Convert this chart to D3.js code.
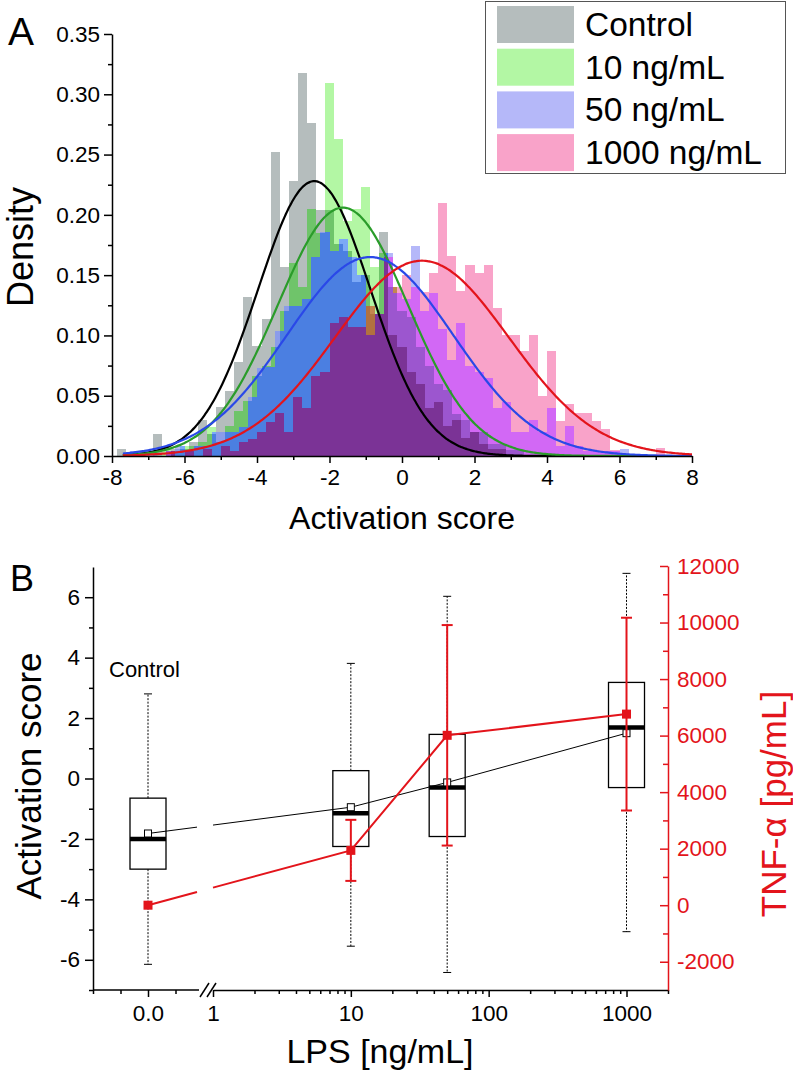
<!DOCTYPE html>
<html><head><meta charset="utf-8">
<script src="https://cdn.jsdelivr.net/npm/d3@7"></script>
<style>body{margin:0;background:#fff} text{font-family:Arial,"Liberation Sans",sans-serif}</style>
</head><body><svg id="c" width="793" height="1073"></svg>
<script>
// ---------------- Panel A data ----------------
const seriesNames = ["Control", "10 ng/mL", "50 ng/mL", "1000 ng/mL"];
const binWidth = 0.25;
const controlStart = -7.875;
const controlDensity = [0.006,0,0,0,0.018,0,0.006,0.006,0.012,0.030,0.018,0.041,0.054,0.078,0.132,0.091,0.114,0.252,0.157,0.228,0.318,0.276,0.204,0.204,0.176,0.17,0.144,0.150,0.118,0.186,0.10,0.09,0.07,0.06,0.04,0.045,0.025,0.03,0.015,0.02,0.01,0.006,0.006];
const lps10Start = -6.625;
const lps10Density = [0.008,0.004,0.008,0.008,0.012,0.024,0.012,0.025,0.037,0.046,0.066,0.075,0.09,0.12,0.16,0.140,0.205,0.185,0.309,0.263,0.195,0.205,0.223,0.157,0.168,0.14,0.12,0.115,0.09,0.075,0.06,0.055,0.035,0.03,0.02,0.02,0.01,0.01,0.005,0.005];
const lps50Start = -7.5;
const lps50Density = [0.004,0.004,0.004,0,0.004,0.008,0.004,0.008,0.008,0.02,
 0.02,0.02,0.024,0.049,0.073,0.074,0.104,0.124,0.124,0.13,
 0.165,0.186,0.17,0.18,0.165,0.15,0.10,0.118,0.168,0.135,
 0.13,0.174,0.12,0.135,0.105,0.08,0.11,0.075,0.07,0.065,
 0.04,0.045,0.02,0.02,0.03,0.02,0.04,0.008,0.025,0.008,
 0.004,0.004,0.004,0.004,0.006];
const lps1000Start = -6.5;
const lps1000Density = [0.004,0,0.004,0,0.006,0,0.008,0.004,0.012,0.014,
 0.02,0.028,0.036,0.02,0.049,0.04,0.066,0.07,0.11,0.115,
 0.107,0.107,0.124,0.118,0.165,0.14,0.15,0.14,0.136,0.152,
 0.21,0.166,0.137,0.158,0.152,0.158,0.123,0.100,0.100,0.087,
 0.100,0.050,0.087,0.029,0.043,0.036,0.036,0.029,0.022,0.005,
 0,0,0,0,0.007];
// Gaussian fits (peak height, centre, width)
const fitPeak = [0.228, 0.206, 0.165, 0.162];
const fitMean = [-2.42, -1.63, -0.88, 0.55];
const fitSD = [1.55, 1.8, 2.3, 2.4];
const fitRange = [-7.7, 8.0];
const xTicksA = [-8,-6,-4,-2,0,2,4,6,8];
const yTicksA = [0,0.05,0.10,0.15,0.20,0.25,0.30,0.35];

// ---------------- Panel B data ----------------
const lpsLabels = ["Control", "10", "50", "1000"];
const lpsConc = [0, 10, 50, 1000];
const boxQ1 = [-3.0, -2.25, -1.92, -0.3];
const boxQ3 = [-0.65, 0.26, 1.46, 3.18];
const boxMedian = [-2.0, -1.15, -0.3, 1.69];
const boxMean = [-1.82, -0.95, -0.13, 1.5];
const whiskerLow = [-6.15, -5.55, -6.42, -5.07];
const whiskerHigh = [2.8, 3.81, 6.03, 6.79];
const tnfMean = [0, 1940, 6010, 6760];
const tnfErr = [0, 1080, 3900, 3410];
const yTicksB = [-6,-4,-2,0,2,4,6];
const tnfTicks = [-2000,0,2000,4000,6000,8000,10000,12000];
const logTicks = [1,10,100,1000];

const svg = d3.select("#c");
const FONT = 'Arial, "Liberation Sans", sans-serif';

// ====== PANEL A ======
const xA = d3.scaleLinear().domain([-8, 8]).range([112, 692]);
const yA = d3.scaleLinear().domain([0, 0.35]).range([456, 34]);
const series = [
  {start: controlStart, vals: controlDensity},
  {start: lps10Start, vals: lps10Density},
  {start: lps50Start, vals: lps50Density},
  {start: lps1000Start, vals: lps1000Density}
];
const setColors = {
  "1000":"#b5bdbd","0100":"#b3f7a4","0010":"#b5b8f9","0001":"#f9a3c9",
  "1100":"#6fc46a","1010":"#8b9cea","0110":"#7ca9f6","1110":"#4b7fe1",
  "1001":"#c98f9c","0101":"#c3874f","1101":"#b2713f",
  "0011":"#d268f5","1011":"#a252cb","0111":"#9c56cf","1111":"#7b3396"
};
function hAt(s, v) {
  const i = Math.floor((v - s.start) / binWidth + 1e-9);
  return (i >= 0 && i < s.vals.length) ? s.vals[i] : 0;
}
let edges = new Set();
series.forEach(s => s.vals.forEach((_, i) => {
  edges.add(+(s.start + i * binWidth).toFixed(4));
  edges.add(+(s.start + (i + 1) * binWidth).toFixed(4));
}));
edges = [...edges].sort((a, b) => a - b);
const bands = [];
for (let k = 0; k < edges.length - 1; k++) {
  const a = edges[k], b = edges[k + 1], mid = (a + b) / 2;
  const hs = series.map(s => hAt(s, mid));
  const levels = [...new Set(hs.filter(h => h > 0))].sort((p, q) => p - q);
  let prev = 0;
  levels.forEach(L => {
    const key = hs.map(h => h >= L ? "1" : "0").join("");
    bands.push({x0: a, x1: b, y0: prev, y1: L, key});
    prev = L;
  });
}
svg.append("g").attr("shape-rendering", "crispEdges").selectAll("rect").data(bands).join("rect")
  .attr("x", d => xA(d.x0)).attr("width", d => xA(d.x1) - xA(d.x0))
  .attr("y", d => yA(d.y1)).attr("height", d => yA(d.y0) - yA(d.y1))
  .attr("fill", d => setColors[d.key]);

// fitted curves
const curveColors = ["#000000", "#2a9c2a", "#2a48e8", "#e3141b"];
const line = d3.line().x(d => xA(d[0])).y(d => yA(d[1])).curve(d3.curveBasis);
fitPeak.forEach((A, i) => {
  const pts = d3.range(fitRange[0], fitRange[1] + 0.001, 0.05).map(v => [v, A * Math.exp(-0.5 * Math.pow((v - fitMean[i]) / fitSD[i], 2))]);
  svg.append("path").attr("d", line(pts)).attr("fill", "none").attr("stroke", curveColors[i]).attr("stroke-width", 2.2);
});

// axes A
function styleAxis(g, color, fs) {
  g.select(".domain").attr("stroke", color).attr("stroke-width", 1.5);
  g.selectAll(".tick line").attr("stroke", color).attr("stroke-width", 1.5);
  g.selectAll("text").attr("fill", color).style("font-size", fs + "px").style("font-family", FONT);
}
const yAxA = svg.append("g").attr("transform", "translate(112,0)")
  .call(d3.axisLeft(yA).tickValues(yTicksA).tickFormat(d3.format(".2f")).tickSize(8).tickSizeOuter(0).tickPadding(4));
styleAxis(yAxA, "#000", 22.5);
svg.append("g").attr("transform", "translate(112,0)")
  .call(d3.axisLeft(yA).tickValues(d3.range(0.025, 0.35, 0.05)).tickFormat("").tickSize(4).tickSizeOuter(0))
  .call(g => { g.select(".domain").remove(); g.selectAll("line").attr("stroke", "#000").attr("stroke-width", 1.5); });
const xAxA = svg.append("g").attr("transform", "translate(0,456)")
  .call(d3.axisBottom(xA).tickValues(xTicksA).tickFormat(d => String(d)).tickSize(7).tickSizeOuter(0).tickPadding(6));
styleAxis(xAxA, "#000", 22.5);
svg.append("g").attr("transform", "translate(0,456)")
  .call(d3.axisBottom(xA).tickValues(d3.range(-7, 8, 2)).tickFormat("").tickSize(4).tickSizeOuter(0))
  .call(g => { g.select(".domain").remove(); g.selectAll("line").attr("stroke", "#000").attr("stroke-width", 1.5); });

svg.append("text").attr("x", 402).attr("y", 529).attr("text-anchor", "middle").style("font-size", "32px").text("Activation score");
svg.append("text").attr("transform", "translate(33,247) rotate(-90)").attr("text-anchor", "middle").style("font-size", "36px").text("Density");
svg.append("text").attr("x", 8).attr("y", 45).style("font-size", "39px").text("A");

// legend
const legendColors = [setColors["1000"], setColors["0100"], setColors["0010"], setColors["0001"]];
svg.append("rect").attr("x", 485.5).attr("y", 1.5).attr("width", 300).attr("height", 172)
  .attr("fill", "#fff").attr("stroke", "#555").attr("stroke-width", 1);
const lg = svg.append("g").selectAll("g").data(seriesNames).join("g")
  .attr("transform", (d, i) => `translate(497,${6 + i * 42.7})`);
lg.append("rect").attr("width", 77).attr("height", 37).attr("fill", (d, i) => legendColors[i]);
lg.append("text").attr("x", 88).attr("y", 30).style("font-size", "33.5px").text(d => d);

// ====== PANEL B ======
const yB = d3.scaleLinear().domain([-7, 7]).range([990, 567]);
const yT = d3.scaleLinear().domain([-3000, 12000]).range([990, 566]);
const xLin = d3.scaleLinear().domain([-0.2, 0.2]).range([93, 203]);
const xLog = d3.scaleLog().domain([1, 2000]).range([213, 668]);
const xPos = (c, i) => i === 0 ? xLin(c) : xLog(c);
const gapX = [197, 213];

// left axis
const yAxB = svg.append("g").attr("transform", "translate(93,0)")
  .call(d3.axisLeft(yB).tickValues(yTicksB).tickFormat(d => String(d)).tickSize(8).tickSizeOuter(0).tickPadding(5));
styleAxis(yAxB, "#000", 22.5);
svg.append("g").attr("transform", "translate(93,0)")
  .call(d3.axisLeft(yB).tickValues([-7,-5,-3,-1,1,3,5]).tickFormat("").tickSize(4).tickSizeOuter(0))
  .call(g => { g.select(".domain").remove(); g.selectAll("line").attr("stroke", "#000").attr("stroke-width", 1.5); });

// bottom axis: linear segment (control) + log segment
const xb1 = svg.append("g").attr("transform", "translate(0,990)")
  .call(d3.axisBottom(xLin).tickValues([0]).tickFormat(() => "0.0").tickSize(7).tickSizeOuter(0).tickPadding(8));
styleAxis(xb1, "#000", 22.5);
xb1.select(".domain").attr("d", `M93,0H199`);
svg.append("g").attr("transform", "translate(0,990)")
  .call(d3.axisBottom(xLin).tickValues([-0.2, -0.1, 0.1]).tickFormat("").tickSize(4).tickSizeOuter(0))
  .call(g => { g.select(".domain").remove(); g.selectAll("line").attr("stroke", "#000").attr("stroke-width", 1.5); });
const xb2 = svg.append("g").attr("transform", "translate(0,990)")
  .call(d3.axisBottom(xLog).tickValues(logTicks).tickFormat(d => String(d)).tickSize(7).tickSizeOuter(0).tickPadding(8));
styleAxis(xb2, "#000", 22.5);
const minorLog = [];
[1, 10, 100, 1000].forEach(dec => { for (let m = 2; m <= 9; m++) if (dec * m <= 2000) minorLog.push(dec * m); });
svg.append("g").attr("transform", "translate(0,990)")
  .call(d3.axisBottom(xLog).tickValues(minorLog).tickFormat("").tickSize(4).tickSizeOuter(0))
  .call(g => { g.select(".domain").remove(); g.selectAll("line").attr("stroke", "#000").attr("stroke-width", 1.5); });
// break marks
svg.append("g").selectAll("line").data([0, 7]).join("line")
  .attr("x1", d => 200 + d).attr("y1", 997).attr("x2", d => 209 + d).attr("y2", 983)
  .attr("stroke", "#000").attr("stroke-width", 1.5);

// right axis (TNF)
const RED = "#e3141b";
const yAxT = svg.append("g").attr("transform", "translate(668,0)")
  .call(d3.axisRight(yT).tickValues(tnfTicks).tickFormat(d => String(d)).tickSize(-8).tickSizeOuter(0).tickPadding(9));
styleAxis(yAxT, RED, 22.5);
svg.append("g").attr("transform", "translate(668,0)")
  .call(d3.axisRight(yT).tickValues(d3.range(-1000, 12000, 2000)).tickFormat("").tickSize(-5).tickSizeOuter(0))
  .call(g => { g.select(".domain").remove(); g.selectAll("line").attr("stroke", RED).attr("stroke-width", 1.5); });

// box plots
const boxW = 36;
const bg = svg.append("g");
lpsConc.forEach((c, i) => {
  const x = xPos(c, i);
  bg.append("line").attr("x1", x).attr("x2", x).attr("y1", yB(boxQ3[i])).attr("y2", yB(whiskerHigh[i]))
    .attr("stroke", "#000").attr("stroke-width", 1).attr("stroke-dasharray", "2,1.5");
  bg.append("line").attr("x1", x).attr("x2", x).attr("y1", yB(boxQ1[i])).attr("y2", yB(whiskerLow[i]))
    .attr("stroke", "#000").attr("stroke-width", 1).attr("stroke-dasharray", "2,1.5");
  [whiskerHigh[i], whiskerLow[i]].forEach(w => bg.append("line").attr("x1", x - 4).attr("x2", x + 4)
    .attr("y1", yB(w)).attr("y2", yB(w)).attr("stroke", "#000").attr("stroke-width", 1));
  bg.append("rect").attr("x", x - boxW / 2).attr("y", yB(boxQ3[i])).attr("width", boxW)
    .attr("height", yB(boxQ1[i]) - yB(boxQ3[i])).attr("fill", "none").attr("stroke", "#000").attr("stroke-width", 1.3);
  bg.append("line").attr("x1", x - boxW / 2).attr("x2", x + boxW / 2).attr("y1", yB(boxMedian[i])).attr("y2", yB(boxMedian[i]))
    .attr("stroke", "#000").attr("stroke-width", 4.5);
});

function brokenSegments(pts) {
  const segs = [];
  const [p0, p1] = pts;
  const interp = gx => p0[1] + (p1[1] - p0[1]) * (gx - p0[0]) / (p1[0] - p0[0]);
  segs.push([p0, [gapX[0], interp(gapX[0])]]);
  segs.push([[gapX[1], interp(gapX[1])], ...pts.slice(1)]);
  return segs;
}
const lineB = d3.line();
// mean line
const meanPts = lpsConc.map((c, i) => [xPos(c, i), yB(boxMean[i])]);
brokenSegments(meanPts).forEach(s => svg.append("path").attr("d", lineB(s)).attr("fill", "none").attr("stroke", "#000").attr("stroke-width", 1));
svg.append("g").selectAll("rect").data(meanPts).join("rect")
  .attr("x", d => d[0] - 3.5).attr("y", d => d[1] - 3.5).attr("width", 7).attr("height", 7)
  .attr("fill", "#fff").attr("stroke", "#000").attr("stroke-width", 1);

// TNF line
const tnfPts = lpsConc.map((c, i) => [xPos(c, i), yT(tnfMean[i])]);
brokenSegments(tnfPts).forEach(s => svg.append("path").attr("d", lineB(s)).attr("fill", "none").attr("stroke", RED).attr("stroke-width", 2));
lpsConc.forEach((c, i) => {
  if (tnfErr[i] <= 0) return;
  const x = xPos(c, i);
  const t = yT(tnfMean[i] + tnfErr[i]), b = yT(tnfMean[i] - tnfErr[i]);
  svg.append("line").attr("x1", x).attr("x2", x).attr("y1", t).attr("y2", b).attr("stroke", RED).attr("stroke-width", 2);
  [t, b].forEach(yy => svg.append("line").attr("x1", x - 5.5).attr("x2", x + 5.5).attr("y1", yy).attr("y2", yy).attr("stroke", RED).attr("stroke-width", 2));
});
svg.append("g").selectAll("rect").data(tnfPts).join("rect")
  .attr("x", d => d[0] - 4.5).attr("y", d => d[1] - 4.5).attr("width", 9).attr("height", 9).attr("fill", RED);

// labels B
svg.append("text").attr("x", 109).attr("y", 677).style("font-size", "22px").text(lpsLabels[0]);
svg.append("text").attr("x", 10).attr("y", 591).style("font-size", "36px").text("B");
svg.append("text").attr("transform", "translate(41,776) rotate(-90)").attr("text-anchor", "middle").style("font-size", "35px").text("Activation score");
svg.append("text").attr("x", 380).attr("y", 1063).attr("text-anchor", "middle").style("font-size", "34px").text("LPS [ng/mL]");
svg.append("text").attr("transform", "translate(786,804) rotate(-90)").attr("text-anchor", "middle").attr("fill", RED).style("font-size", "35px").text("TNF-α [pg/mL]");
</script></body></html>
